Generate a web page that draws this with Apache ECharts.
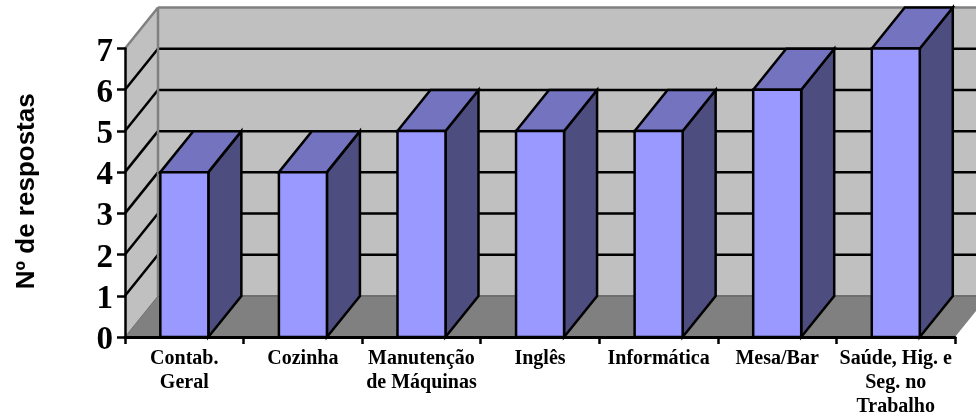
<!DOCTYPE html>
<html>
<head>
<meta charset="utf-8">
<style>
  html, body { margin: 0; padding: 0; background: #fff; }
  #chart { width: 976px; height: 414px; }
</style>
<script src="https://cdn.jsdelivr.net/npm/echarts@6/dist/echarts.min.js"></script>
</head>
<body>
<div id="chart"></div>
<script>
// valores
const categories = ['Contab.\nGeral', 'Cozinha', 'Manutenção\nde Máquinas', 'Inglês', 'Informática', 'Mesa/Bar', 'Saúde, Hig. e\nSeg. no\nTrabalho'];
const values = [4, 4, 5, 5, 5, 6, 7];
const yTicks = [0, 1, 2, 3, 4, 5, 6, 7];

// profundidade do efeito 3D, em pixels
const depthX = 33;
const depthY = -41;

const poly = (points, fill, stroke, lineWidth) => ({
  type: 'polygon',
  shape: { points: points },
  style: { fill: fill, stroke: stroke || null, lineWidth: lineWidth || 0, lineJoin: 'miter' }
});
const seg = (x1, y1, x2, y2, stroke, lineWidth) => ({
  type: 'line',
  shape: { x1, y1, x2, y2 },
  style: { stroke: stroke, lineWidth: lineWidth }
});

// paredes, chao e linhas de grade
const renderWalls = (params, api) => {
  const cs = params.coordSys;
  const left = cs.x;
  const right = cs.x + cs.width;
  const y0 = api.coord([0, 0])[1];
  const yTop = api.coord([0, yTicks[yTicks.length - 1]])[1];
  const children = [
    poly([[left + depthX, yTop + depthY], [right + depthX, yTop + depthY], [right + depthX, y0 + depthY], [left + depthX, y0 + depthY]], '#C0C0C0'),
    poly([[left, yTop], [left + depthX, yTop + depthY], [left + depthX, y0 + depthY], [left, y0]], '#C0C0C0'),
    poly([[left, y0], [left + depthX, y0 + depthY], [right + depthX, y0 + depthY], [right, y0]], '#808080')
  ];
  yTicks.slice(1, -1).forEach(v => {
    const y = api.coord([0, v])[1];
    children.push(seg(left, y, left + depthX, y + depthY, '#000', 2.5));
    children.push(seg(left + depthX, y + depthY, right + depthX, y + depthY, '#000', 2.5));
  });
  children.push(seg(left + depthX, y0 + depthY, right + depthX, y0 + depthY, '#6e6e6e', 2));
  children.push(seg(left, y0, left + depthX, y0 + depthY, '#6e6e6e', 1));
  children.push(seg(left, yTop, left + depthX, yTop + depthY, '#808080', 2.5));
  children.push(seg(left + depthX, yTop + depthY, left + depthX, y0 + depthY, '#808080', 2.5));
  children.push(seg(left + depthX, yTop + depthY, right + depthX, yTop + depthY, '#808080', 2.5));
  return { type: 'group', children: children };
};

// cada barra: frente, topo e lado
const renderBar = (params, api) => {
  const band = api.size([1, 0])[0];
  const idx = api.value(0);
  const top = api.coord([idx, api.value(1)]);
  const base = api.coord([idx, 0]);
  const barW = band * 0.405;
  const x1 = top[0] - band / 2 + band * 0.298;
  const x2 = x1 + barW;
  const yT = top[1];
  const yB = base[1];
  return {
    type: 'group',
    children: [
      poly([[x2, yT], [x2 + depthX, yT + depthY], [x2 + depthX, yB + depthY], [x2, yB]], '#4D4D80', '#000', 2.5),
      poly([[x1, yT], [x1 + depthX, yT + depthY], [x2 + depthX, yT + depthY], [x2, yT]], '#7373BF', '#000', 2.5),
      poly([[x1, yT], [x2, yT], [x2, yB], [x1, yB]], '#9999FF', '#000', 2.5)
    ]
  };
};

const chart = echarts.init(document.getElementById('chart'), null, { renderer: 'canvas' });
chart.setOption({
  animation: false,
  backgroundColor: '#fff',
  grid: { left: 125, top: 48.5, width: 830, height: 288.5, containLabel: false, outerBoundsMode: 'none' },
  xAxis: {
    type: 'category',
    data: categories,
    z: 5,
    axisLine: { lineStyle: { color: '#000', width: 3 } },
    axisTick: { show: true, length: 7, lineStyle: { color: '#000', width: 2.5 } },
    axisLabel: {
      interval: 0,
      margin: 10,
      color: '#000',
      fontFamily: 'Liberation Serif',
      fontWeight: 'bold',
      fontSize: 20,
      lineHeight: 24
    }
  },
  yAxis: {
    type: 'value',
    min: 0,
    max: 7,
    interval: 1,
    z: 5,
    name: 'Nº de respostas',
    nameLocation: 'middle',
    nameRotate: 90,
    nameGap: 85,
    nameTextStyle: { color: '#000', fontFamily: 'Liberation Sans', fontWeight: 'bold', fontSize: 26, padding: [0, 0, 0, 3] },
    splitLine: { show: false },
    axisLine: { show: true, lineStyle: { color: '#000', width: 2.5 } },
    axisTick: { show: true, length: 8, lineStyle: { color: '#000', width: 2.5 } },
    axisLabel: {
      margin: 12,
      formatter: '{d|{value}}',
      rich: {
        d: {
          color: '#000',
          fontFamily: 'Liberation Serif',
          fontWeight: 'bold',
          fontSize: 33,
          padding: [7, 0, 0, 0]
        }
      }
    }
  },
  series: [
    { type: 'custom', z: 1, silent: true, renderItem: renderWalls, data: [[0, 0]], encode: { x: 0, y: 1 } },
    { type: 'custom', z: 2, renderItem: renderBar, data: values.map((v, i) => [i, v]), encode: { x: 0, y: 1 } }
  ]
});
</script>
</body>
</html>
